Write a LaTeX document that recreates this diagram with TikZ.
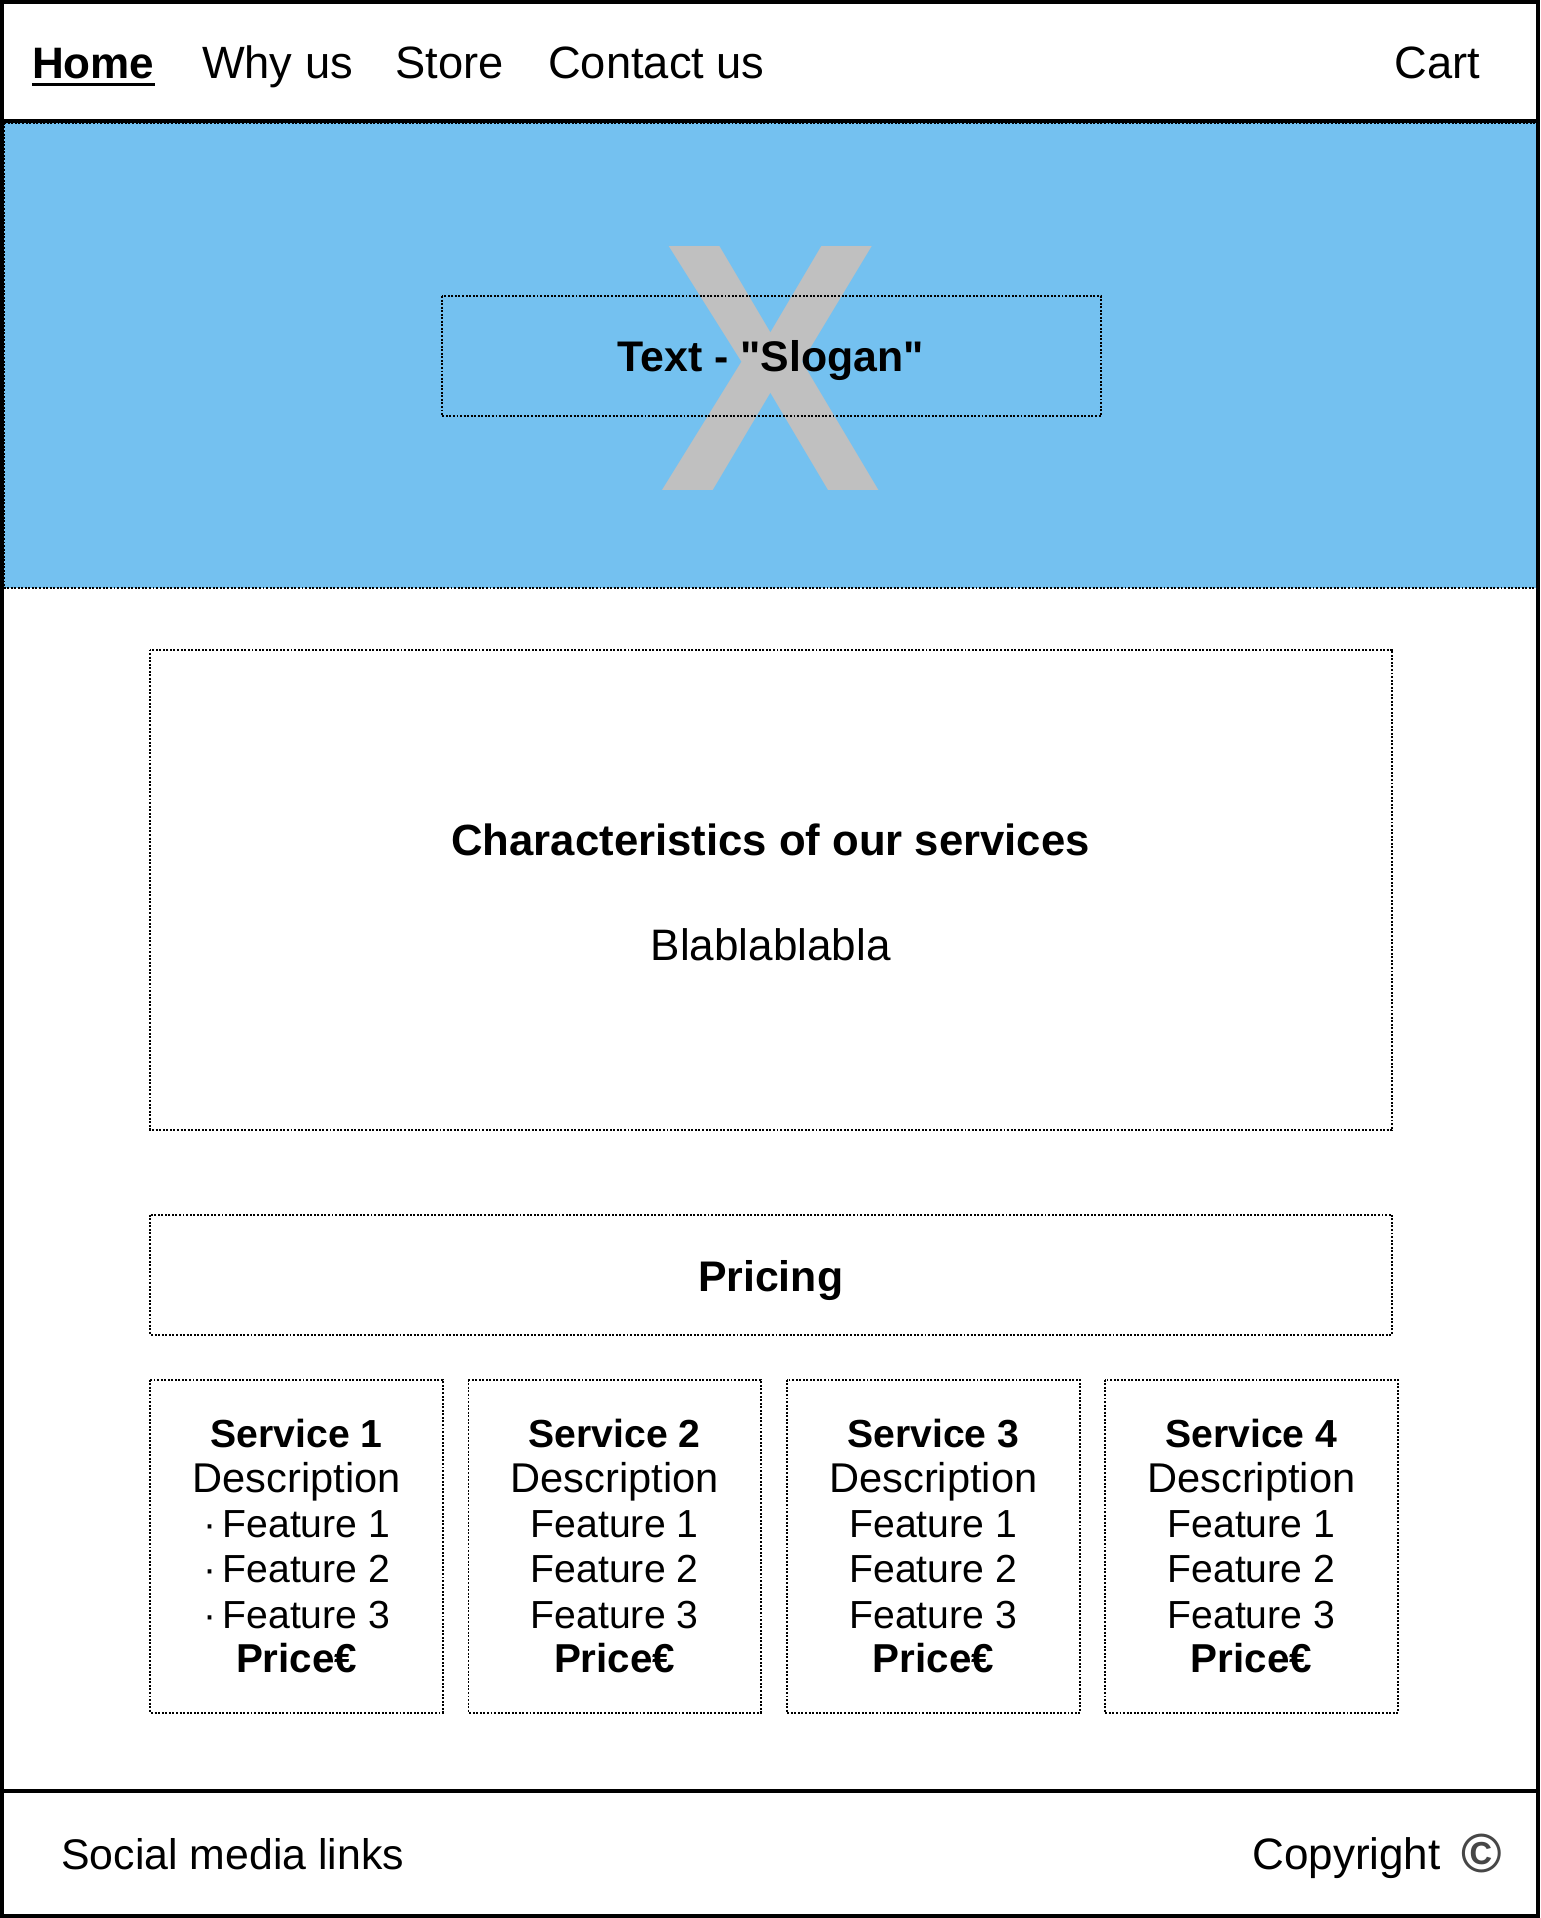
\documentclass[tikz,border=0pt]{standalone}
\usepackage{fontspec}
\setmainfont{Liberation Sans}[Ligatures=TeXOff]
\definecolor{banner}{RGB}{116,193,240}
\definecolor{xgrey}{RGB}{192,192,192}
\tikzset{
  dotbox/.style={draw=black, line width=1.6pt, dash pattern=on 1.6pt off 1.3pt},
  solidline/.style={draw=black, line width=3pt},
  nav/.style={anchor=base west, inner sep=0pt, font=\fontsize{37}{40}\selectfont},
  reg/.style={anchor=base, inner sep=0pt, font=\fontsize{36}{40}\selectfont},
  bld/.style={anchor=base, inner sep=0pt, font=\fontsize{35}{40}\selectfont\bfseries},
  svr/.style={anchor=base, inner sep=0pt, font=\fontsize{34}{37}\selectfont},
  svf/.style={anchor=base, inner sep=0pt, font=\fontsize{32}{37}\selectfont},
  svb/.style={anchor=base, inner sep=0pt, font=\fontsize{32}{37}\selectfont\bfseries},
}
\begin{document}
\begin{tikzpicture}[x=1pt,y=-1pt]
\useasboundingbox (0,0) rectangle (1259,1568);
% banner
\path[fill=banner] (3,100) rectangle (1257,481);
\draw[dotbox] (3.5,100.5) rectangle (1256.5,481);
% big X placeholder
\node[inner sep=0pt, anchor=base, text=xgrey, font=\fontsize{290}{290}\selectfont\bfseries] (ximg) at (630,401) {\scalebox{0.94}[1]{X}};
% slogan
\draw[dotbox] (361,242) rectangle (900,340);
\node[bld] (slogan) at (630,304) {Text - "Slogan"};
% header
\draw[solidline] (0,99) -- (1259,99);
\node[nav, font=\fontsize{36}{40}\selectfont\bfseries] (home) at (26,64) {Home};
\draw[line width=3pt] ([yshift=-5pt]home.base west) -- ([yshift=-5pt]home.base east);
\node[nav] (why) at (165,64) {Why us};
\node[nav] (store) at (323,64) {Store};
\node[nav] (contact) at (448,64) {Contact us};
\node[nav] (cart) at (1140,64) {Cart};
% characteristics
\draw[dotbox] (123,531) rectangle (1138,924);
\node[bld, font=\fontsize{35.7}{40}\selectfont\bfseries] (chartitle) at (630,699) {Characteristics of our services};
\node[reg] (blabla) at (630,785) {Blablablabla};
% pricing
\draw[dotbox] (123,993) rectangle (1138,1091);
\node[bld] (pricing) at (630,1056) {Pricing};
% services
\foreach \i/\l/\r/\b in {1/123/362/{·\,},2/383/622/{},3/643/883/{},4/903/1143/{}}{
  \draw[dotbox] (\l,1128) rectangle (\r,1400);
  \pgfmathsetmacro{\cx}{(\l+\r)/2}
  \node[svb] (s\i t) at (\cx,1183) {Service \i};
  \node[svr] (s\i d) at (\cx,1220) {Description};
  \node[svf] (s\i a) at (\cx,1257) {\b Feature 1};
  \node[svf] (s\i b) at (\cx,1294) {\b Feature 2};
  \node[svf] (s\i c) at (\cx,1331) {\b Feature 3};
  \node[svb, font=\fontsize{33}{37}\selectfont\bfseries] (s\i p) at (\cx,1367) {Price€};
}
% footer
\draw[solidline] (0,1464) -- (1259,1464);
\node[reg, anchor=base west, font=\fontsize{35}{40}\selectfont] (social) at (50,1528) {Social media links};
\node[reg, anchor=base east] (copy) at (1178,1528) {Copyright};
\node[inner sep=0pt, anchor=base, text=black!72, font=\fontsize{45}{45}\selectfont\bfseries] (copysym) at (1211,1531) {©};
% outer frame
\draw[line width=3pt] (1.5,1.5) rectangle (1257.5,1566.5);
\end{tikzpicture}
\end{document}
